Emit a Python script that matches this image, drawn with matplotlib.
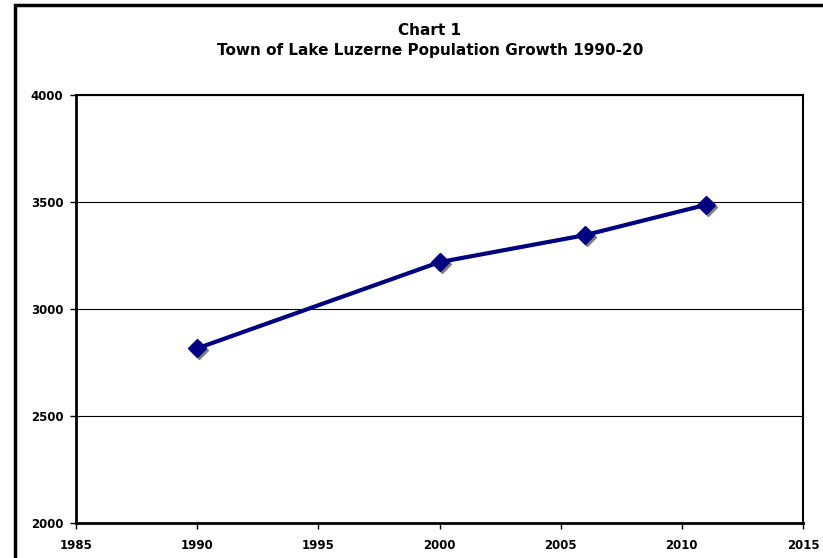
import matplotlib.pyplot as plt
import matplotlib.transforms as mtransforms
from matplotlib.patches import Rectangle

years = [1990, 2000, 2006, 2011]
population = [2816, 3219, 3345, 3487]
x_ticks = [1985, 1990, 1995, 2000, 2005, 2010, 2015]
y_ticks = [2000, 2500, 3000, 3500, 4000]

fig = plt.figure(figsize=(8.23, 5.58), dpi=100)
ax = fig.add_axes([76 / 823, 1 - 523 / 558, 727 / 823, 428 / 558])

# outer chart frame (only top and left visible in original)
fig.patches.append(Rectangle((15 / 823, -0.1), 1.2, 1 - 5 / 558 + 0.1,
                             transform=fig.transFigure, fill=False,
                             edgecolor='black', linewidth=2.5))

# grey shadow behind markers
shadow = mtransforms.offset_copy(ax.transData, fig=fig, x=1.5, y=-1.5, units='points')
ax.plot(years, population, 'D', color='#808080', markersize=9, transform=shadow, zorder=3)
ax.plot(years, population, '-', color='#000080', linewidth=3, zorder=4)
ax.plot(years, population, 'D', color='#000080', markersize=9, zorder=5)

ax.set_xlim(1985, 2015)
ax.set_ylim(2000, 4000)
ax.set_xticks(x_ticks)
ax.set_yticks(y_ticks)
ax.tick_params(labelsize=8.5, length=4, width=1, direction='out')
ax.tick_params(axis='x', pad=7.5)
ax.tick_params(axis='y', pad=5)
for lab in ax.get_xticklabels() + ax.get_yticklabels():
    lab.set_fontweight('bold')

ax.yaxis.grid(True, color='black', linewidth=0.8)
ax.set_axisbelow(True)
for side in ['left', 'bottom']:
    ax.spines[side].set_linewidth(2)
for side in ['top', 'right']:
    ax.spines[side].set_linewidth(1.5)

fig.text(430 / 823, 1 - 30.5 / 558, 'Chart 1', ha='center', va='center',
         fontsize=11, fontweight='bold')
fig.text(430 / 823, 1 - 50.5 / 558, 'Town of Lake Luzerne Population Growth 1990-20',
         ha='center', va='center', fontsize=11, fontweight='bold')

fig.savefig('out.png', dpi=100)
